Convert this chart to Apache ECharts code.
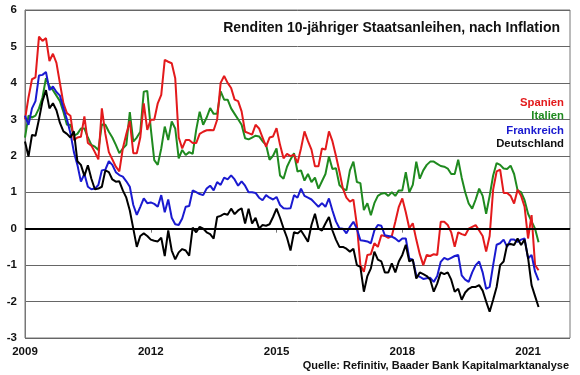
<!DOCTYPE html>
<html>
<head>
<meta charset="utf-8">
<script src="https://cdn.jsdelivr.net/npm/echarts@6/dist/echarts.min.js"></script>
<style>
  html, body { margin: 0; padding: 0; background: #fff; }
  #main { width: 580px; height: 375px; }
</style>
</head>
<body>
<div id="main"></div>
<script>
// Monatswerte ab Jan 2009
var spanien = [3.0, 3.6, 4.1, 4.15, 5.27, 5.15, 5.23, 4.6, 4.8, 4.55, 3.99, 3.44, 3.17, 3.1, 2.43, 2.5, 2.52, 3.08, 2.35, 2.28,
  2.1, 1.9, 3.3, 2.6, 2.1, 1.9, 1.7, 1.57, 2.2, 2.6, 2.95, 2.07, 2.07, 2.5, 3.44, 2.71, 2.99, 2.99, 3.44, 3.67,
  4.63, 4.58, 4.54, 4.13, 2.5, 2.2, 2.43, 2.43, 2.35, 2.35, 2.6, 2.66, 2.7, 2.71, 2.7, 2.99, 4.0, 4.19, 4.0, 3.86,
  3.54, 3.5, 3.22, 2.66, 2.62, 2.58, 2.85, 2.75, 2.5, 2.25, 2.5, 2.53, 2.76, 2.3, 1.93, 2.05, 1.99, 2.03, 1.8, 2.2,
  2.67, 2.4, 2.17, 1.71, 1.71, 2.2, 2.17, 2.67, 2.4, 2.0, 1.57, 1.1, 0.85, 0.74, 0.8, 0.1, -1.0, -1.18, -0.72, -0.7,
  -0.4, -0.5, -0.18, -0.2, -0.25, -0.2, 0.19, 0.6, 0.83, 0.45, 0.01, 0.15, -0.3, -0.7, -1.0, -0.72, -0.75, -0.7, -0.72, 0.19,
  0.19, 0.1, -0.1, -0.5, -0.1, -0.15, -0.18, 0.0, 0.05, 0.1, -0.05, -0.2, -0.63, -0.2, 1.07, 1.57, 1.62, 0.98, 0.98, 0.9,
  0.69, 1.07, 0.9, 0.6, -0.27, 0.37, -1.0, -1.14];

var italien = [2.5, 3.1, 3.05, 3.1, 3.3, 3.6, 4.13, 3.9, 3.8, 3.65, 3.5, 3.2, 2.85, 2.85, 2.55, 2.6, 2.75, 2.75, 2.5, 2.3,
  2.25, 2.16, 2.86, 2.85, 2.66, 2.5, 2.3, 2.07, 2.2, 2.3, 3.2, 2.39, 2.5, 2.66, 3.76, 3.78, 2.75, 1.88, 1.75, 2.2,
  2.8, 2.43, 2.94, 2.75, 1.93, 2.16, 2.02, 2.1, 2.05, 2.71, 3.21, 2.85, 3.05, 3.31, 3.15, 3.15, 3.77, 3.54, 3.54, 3.3,
  3.15, 3.0, 2.85, 2.48, 2.45, 2.5, 2.55, 2.53, 2.4, 2.3, 1.89, 2.0, 2.2, 1.46, 1.37, 1.7, 1.9, 2.07, 1.57, 1.6,
  1.32, 1.5, 1.28, 1.4, 1.1, 1.3, 1.5, 1.98, 1.64, 1.66, 1.2, 1.1, 1.05, 1.6, 1.84, 1.28, 1.25, 0.51, 0.7, 0.37,
  0.7, 0.9, 0.96, 0.98, 0.9, 1.0, 0.9, 1.05, 1.05, 1.55, 1.0, 1.2, 1.84, 1.37, 1.6, 1.75, 1.84, 1.84, 1.78, 1.72,
  1.7, 1.65, 1.5, 1.5, 1.89, 1.4, 1.0, 0.69, 0.55, 0.8, 1.1, 0.9, 0.41, 0.9, 1.46, 1.8, 1.75, 1.65, 1.64, 1.73,
  1.5, 1.05, 1.0, 0.78, 0.41, 0.2, 0.0, -0.37];

var frankreich = [3.1, 2.85, 3.3, 3.5, 4.2, 4.22, 4.3, 3.8, 3.9, 3.75, 3.65, 3.3, 3.0, 2.62, 2.1, 1.75, 1.29, 1.5, 1.15, 1.08,
  1.1, 1.2, 1.6, 1.62, 1.85, 1.75, 1.55, 1.47, 1.43, 1.3, 1.15, 0.65, 0.38, 0.6, 0.83, 0.7, 0.72, 0.68, 0.6, 0.92,
  0.45, 0.8, 0.3, 0.12, 0.1, 0.28, 0.6, 0.62, 1.05, 1.0, 0.95, 0.92, 1.1, 1.18, 1.05, 1.28, 1.2, 1.4, 1.35, 1.46,
  1.35, 1.18, 1.3, 1.18, 1.0, 1.0, 0.98, 0.85, 0.78, 0.92, 0.85, 0.8, 0.87, 0.65, 0.56, 0.55, 0.56, 0.92, 0.85, 1.1,
  0.9, 0.85, 0.8, 0.7, 0.6, 0.7, 0.6, 0.83, 0.5, 0.2, 0.01, 0.0, -0.13, 0.05, 0.19, 0.0, -0.32, -0.33, -0.35, -0.4,
  -0.05, 0.1, 0.08, -0.18, -0.2, -0.22, -0.27, -0.35, -0.27, -0.27, -0.82, -0.85, -1.28, -1.32, -1.38, -1.36, -1.35, -1.46, -1.3, -0.91,
  -0.8, -0.85, -0.8, -0.75, -0.72, -1.28, -1.4, -1.46, -1.2, -1.0, -0.9, -1.2, -1.65, -1.6, -1.0, -0.44, -0.4, -0.3, -0.5, -0.3,
  -0.3, -0.36, -0.3, -0.27, -0.82, -0.72, -1.18, -1.42];

var deutschland = [2.39, 1.98, 2.57, 2.55, 3.0, 3.5, 3.8, 3.3, 3.44, 3.25, 2.9, 2.67, 2.6, 2.5, 2.67, 1.85, 1.75, 1.45, 1.74, 1.37,
  1.08, 1.1, 1.15, 1.6, 1.55, 1.35, 1.29, 1.3, 1.05, 0.85, 0.5, 0.0, -0.5, -0.2, -0.13, -0.2, -0.3, -0.33, -0.35, -0.25,
  -0.75, -0.05, -0.6, -0.84, -0.65, -0.56, -0.6, -0.74, 0.03, -0.1, 0.05, 0.0, -0.1, -0.15, -0.27, 0.32, 0.35, 0.41, 0.38, 0.55,
  0.4, 0.5, 0.56, 0.14, 0.55, 0.14, 0.3, 0.0, 0.1, 0.08, 0.12, 0.32, 0.55, 0.3, 0.01, -0.25, -0.6, -0.1, -0.13, -0.05,
  -0.2, -0.36, 0.1, 0.41, 0.0, -0.05, 0.14, 0.32, -0.05, -0.3, -0.5, -0.5, -0.55, -0.63, -0.55, -1.0, -1.05, -1.73, -1.3, -1.09,
  -0.63, -0.85, -0.9, -1.2, -1.2, -0.95, -1.2, -0.9, -0.72, -0.44, -0.9, -0.85, -1.37, -1.2, -1.25, -1.3, -1.4, -1.73, -1.5, -1.2,
  -1.25, -1.2, -1.4, -1.73, -1.65, -1.95, -1.75, -1.65, -1.6, -1.6, -1.55, -1.7, -2.0, -2.28, -1.95, -1.6, -1.0, -0.9, -0.44, -0.42,
  -0.45, -0.27, -0.45, -0.3, -0.8, -1.55, -1.85, -2.15];

var yearLabels = [2009, 2012, 2015, 2018, 2021];
var yTicks = [-3, -2, -1, 0, 1, 2, 3, 4, 5, 6];

// Monatsachse Jan 2009 .. Jan 2022
var months = [];
for (var y = 2009; y <= 2022; y++) {
  for (var mo = 1; mo <= 12; mo++) {
    months.push(y + "-" + (mo < 10 ? "0" + mo : mo));
    if (y === 2022) break;
  }
}

var font = "'Liberation Sans', Arial, sans-serif";

function showYear(index, value) {
  return value.slice(5) === "01" && yearLabels.indexOf(+value.slice(0, 4)) >= 0;
}

var myChart = echarts.init(document.getElementById("main"));
var option = {
  animation: false,
  textStyle: { fontFamily: font },
  grid: {
    left: 25,
    right: 10,
    top: 10,
    bottom: 37,
    show: true,
    borderColor: "#777",
    borderWidth: 1,
  },
  title: [
    {
      text: "Renditen 10-jähriger Staatsanleihen, nach Inflation",
      right: 15,
      top: 16,
      textStyle: { fontSize: 14, fontWeight: "bold", color: "#111", fontFamily: font },
    },
    {
      text: "Quelle: Refinitiv, Baader Bank Kapitalmarktanalyse",
      right: 6,
      top: 355,
      textStyle: { fontSize: 11, fontWeight: "bold", color: "#111", fontFamily: font },
    },
    {
      text: "Spanien",
      right: 11,
      top: 92,
      textStyle: { fontSize: 11.3, fontWeight: "bold", color: "#e31a1c", fontFamily: font },
    },
    {
      text: "Italien",
      right: 11,
      top: 105,
      textStyle: { fontSize: 11.3, fontWeight: "bold", color: "#1f8a1f", fontFamily: font },
    },
    {
      text: "Frankreich",
      right: 11,
      top: 120,
      textStyle: { fontSize: 11.3, fontWeight: "bold", color: "#1a1ad0", fontFamily: font },
    },
    {
      text: "Deutschland",
      right: 11,
      top: 133,
      textStyle: { fontSize: 11.3, fontWeight: "bold", color: "#111", fontFamily: font },
    },
  ],
  xAxis: {
    type: "category",
    data: months,
    boundaryGap: false,
    axisLine: { lineStyle: { color: "#777", width: 1 } },
    axisTick: { interval: showYear, length: 4, lineStyle: { color: "#777" } },
    axisLabel: {
      interval: showYear,
      formatter: function (v) { return v.slice(0, 4); },
      color: "#111",
      fontSize: 11.5,
      fontWeight: "bold",
      margin: 8,
      fontFamily: font,
    },
    splitLine: { show: false },
  },
  yAxis: {
    type: "value",
    min: yTicks[0],
    max: yTicks[yTicks.length - 1],
    interval: 1,
    axisLine: { show: true, lineStyle: { color: "#777", width: 1 } },
    axisTick: { show: false },
    axisLabel: { color: "#111", fontSize: 11.5, fontWeight: "bold", margin: 8, fontFamily: font },
    splitLine: { show: true, lineStyle: { color: "#666", width: 1 } },
  },
  series: [
    {
      name: "Italien",
      type: "line",
      data: italien,
      symbol: "none",
      lineStyle: { color: "#1f8a1f", width: 2 },
      markLine: {
        silent: true,
        symbol: "none",
        label: { show: false },
        lineStyle: { color: "#000", width: 2, type: "solid" },
        data: [{ yAxis: 0 }],
      },
    },
    {
      name: "Spanien",
      type: "line",
      data: spanien,
      symbol: "none",
      lineStyle: { color: "#e31a1c", width: 2 },
    },
    {
      name: "Frankreich",
      type: "line",
      data: frankreich,
      symbol: "none",
      lineStyle: { color: "#1a1ad0", width: 2 },
    },
    {
      name: "Deutschland",
      type: "line",
      data: deutschland,
      symbol: "none",
      lineStyle: { color: "#000", width: 2 },
    },
  ],
};
myChart.setOption(option);
</script>
</body>
</html>
